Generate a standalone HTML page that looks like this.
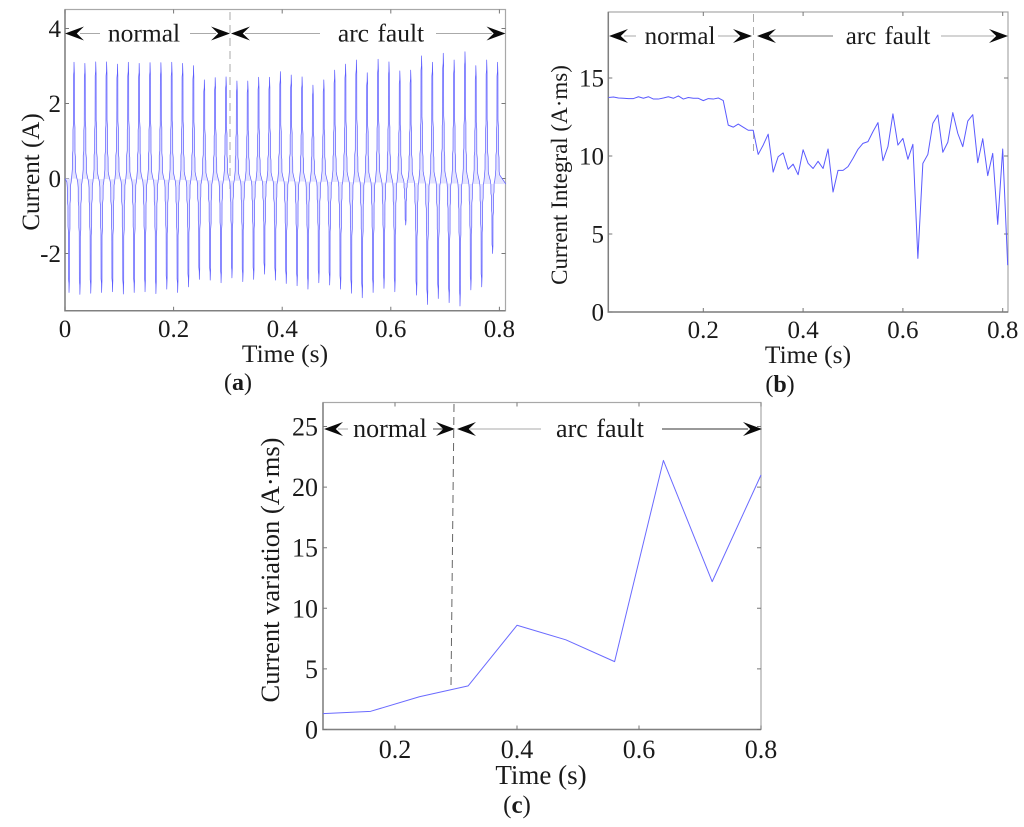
<!DOCTYPE html>
<html lang="en">
<head>
<meta charset="utf-8">
<title>Arc fault current charts</title>
<style>
html,body{margin:0;padding:0;background:#fff;width:1024px;height:827px;overflow:hidden}
svg{display:block}
text{font-family:"Liberation Serif",serif;fill:#1a1a1a}
</style>
</head>
<body>
<svg id="fig" width="1024" height="827" viewBox="0 0 1024 827" xmlns="http://www.w3.org/2000/svg">
<defs>
<clipPath id="clip-a"><rect x="65" y="9" width="441" height="302"/></clipPath>
<clipPath id="clip-b"><rect x="608" y="12" width="400.5" height="300"/></clipPath>
<clipPath id="clip-c"><rect x="323" y="402" width="438.5" height="328"/></clipPath>
</defs>
</svg>
<script>
// ---------- Panel (a) data: per-cycle peak currents ----------
const currentPositivePeaks = [3.10,3.07,3.11,3.11,3.05,3.10,3.07,3.09,3.09,3.10,3.07,3.01,2.63,2.69,2.71,2.60,2.60,2.70,
  2.70,2.85,2.76,2.71,2.49,2.63,2.89,3.05,3.16,2.82,3.18,3.11,2.87,2.89,3.27,3.10,3.34,3.16,3.38,3.01,3.16,3.10];
const currentNegativePeaks = [-3.04,-3.09,-3.06,-3.04,-3.02,-3.08,-3.04,-3.02,-3.07,-2.95,-3.04,-2.89,-2.69,-2.71,-2.78,-2.65,-2.75,-2.69,-2.55,
  -2.71,-2.80,-2.86,-2.95,-2.78,-2.84,-2.95,-3.06,-3.18,-3.04,-2.93,-3.02,-1.24,-3.11,-3.36,-3.20,-3.31,-3.40,-2.97,-2.89,-2.00];
// half-cycle stepped waveform profile: time offset from the peak (s) and fraction of the peak
const pulseOffsets = [-0.0040,-0.0031,-0.0030,-0.0020,-0.0019,-0.0012,-0.0010,-0.0002,0,0.0007,0.0008,0.0017,0.0018,0.0027,0.0029,0.0040];
const pulseLevels = [0.03,0.08,0.20,0.24,0.42,0.46,0.88,0.92,1,0.90,0.50,0.44,0.22,0.18,0.06,0.03];
const positivePeakFirstTime = 0.0166;
const negativePeakFirstTime = 0.0074;
const cyclePeriod = 0.02;
const currentXTicks = [0,0.2,0.4,0.6,0.8];
const currentXLabels = ["0","0.2","0.4","0.6","0.8"];
const currentYTicks = [4,2,0,-2];
const currentYLabels = ["4","2","0","-2"];

// ---------- Panel (b) data ----------
const integralTimes = [0.01,0.02,0.03,0.04,0.05,0.06,0.07,0.08,0.09,0.10,0.11,0.12,0.13,0.14,0.15,0.16,0.17,0.18,0.19,0.20,
  0.21,0.22,0.23,0.24,0.25,0.26,0.27,0.28,0.29,0.30,0.31,0.32,0.33,0.34,0.35,0.36,0.37,0.38,0.39,0.40,
  0.41,0.42,0.43,0.44,0.45,0.46,0.47,0.48,0.49,0.50,0.51,0.52,0.53,0.54,0.55,0.56,0.57,0.58,0.59,0.60,
  0.61,0.62,0.63,0.64,0.65,0.66,0.67,0.68,0.69,0.70,0.71,0.72,0.73,0.74,0.75,0.76,0.77,0.78,0.79,0.80,0.81];
const integralValues = [13.75,13.78,13.72,13.70,13.68,13.68,13.80,13.70,13.80,13.65,13.65,13.72,13.80,13.70,13.85,13.65,13.75,13.70,13.70,13.55,
  13.68,13.65,13.72,13.55,11.98,11.85,12.05,11.85,11.65,11.65,10.10,10.70,11.40,8.97,9.95,10.20,9.15,9.48,8.80,10.40,
  9.53,9.20,9.66,9.20,10.45,7.69,9.08,9.08,9.32,9.85,10.43,10.81,10.92,11.56,12.14,9.70,10.60,12.70,10.70,11.13,
  9.79,10.75,3.44,9.53,10.10,12.09,12.63,10.24,10.88,12.78,11.45,10.60,12.24,12.65,9.57,11.11,8.74,10.17,5.62,10.45,3.00];
const integralXTicks = [0.2,0.4,0.6,0.8];
const integralXLabels = ["0.2","0.4","0.6","0.8"];
const integralYTicks = [15,10,5,0];
const integralYLabels = ["15","10","5","0"];

// ---------- Panel (c) data ----------
const variationTimes = [0.08,0.16,0.24,0.32,0.40,0.48,0.56,0.64,0.72,0.80];
const variationValues = [1.3,1.5,2.7,3.6,8.6,7.4,5.6,22.2,12.2,21.0];
const variationXTicks = [0.2,0.4,0.6,0.8];
const variationXLabels = ["0.2","0.4","0.6","0.8"];
const variationYTicks = [25,20,15,10,5,0];
const variationYLabels = ["25","20","15","10","5","0"];

// ---------- Axis functions ----------
const xA = t => 65 + 543 * t;
const yA = v => 178.5 - 37.5 * v;
const xB = t => 703.3 + (t - 0.2) * 499;
const yB = v => 312 - 15.6 * v;
const xC = t => 395 + (t - 0.2) * 610;
const yC = v => 729.5 - 12.12 * v;

const NS = "http://www.w3.org/2000/svg";
const fig = document.getElementById("fig");
function mk(parent, tag, attrs, txt) {
  const e = document.createElementNS(NS, tag);
  for (const k in attrs) e.setAttribute(k, attrs[k]);
  if (txt !== undefined) e.textContent = txt;
  parent.appendChild(e);
  return e;
}
function ptsOf(ts, vs, fx, fy) {
  return ts.map((t, i) => fx(t).toFixed(2) + "," + fy(vs[i]).toFixed(2)).join(" ");
}
function drawPanel(p) {
  const g = mk(fig, "g", {});
  
  

  const frame = mk(g, "rect", {x:p.l, y:p.t, width:p.r-p.l, height:p.b-p.t, fill:"none", stroke:"#a8a8a8", "stroke-width":1.2});
  
  
  const spine = mk(g, "path", {d:`M${p.l} ${p.t}V${p.b}H${p.r}`, fill:"none", stroke:"#808080", "stroke-width":1.5});
  
  

  p.xt.forEach((t, i) => {
    const x = p.fx(t);
    const tk = mk(g, "path", {d:`M${x} ${p.b}v-4M${x} ${p.t}v4`, stroke:"#777", "stroke-width":1, fill:"none"});
    
    
    const lb = mk(g, "text", {x:x, y:p.xlY, "font-size":p.fs, "text-anchor":"middle"}, p.xl[i]);
    
    
  });
  p.yt.forEach((v, i) => {
    const y = p.fy(v);
    const tk = mk(g, "path", {d:`M${p.l} ${y}h4M${p.r} ${y}h-4`, stroke:"#777", "stroke-width":1, fill:"none"});
    
    
    const lb = mk(g, "text", {x:p.ylX, y:y + p.ylDy, "font-size":p.fs, "text-anchor":"end"}, p.yl[i]);
    
    
  });

  const dash = mk(g, "path", {d:p.dash, fill:"none", stroke:p.dashColor, "stroke-width":1, "stroke-dasharray":"8 5"});
  
  

  const line = mk(g, "polyline", {points:ptsOf(p.ts, p.vs, p.fx, p.fy), fill:p.fill, stroke:p.color, "stroke-width":p.sw, "stroke-linejoin":"round", "clip-path":`url(#${p.clip})`});
  
  

  // phase annotation: arrows and labels
  const a = p.ann, y = a.y;
  a.segs.forEach(s => {
    const shaft = mk(g, "line", {x1:s[0], x2:s[1], y1:y, y2:y, stroke:s[2], "stroke-width":1});
    
    
  });
  a.heads.forEach(h => {
    const tip = h[0], L = 19 * h[1];
    const head = mk(g, "polygon", {points:`${tip},${y} ${tip+L},${y-7} ${tip+L*0.62},${y} ${tip+L},${y+7}`, fill:"#0a0a0a"});
    
    
  });
  const n = mk(g, "text", {x:a.normalX, y:y + a.dy, "font-size":a.fs, "text-anchor":"middle"}, "normal");
  
  
  const f = mk(g, "text", {x:a.faultX, y:y + a.dy, "font-size":a.fs, "text-anchor":"middle", "word-spacing":"2"}, "arc fault");
  
  

  const xt = mk(g, "text", {x:p.xTitle[0], y:p.xTitle[1], "font-size":p.xTitle[2], "text-anchor":"middle"}, "Time (s)");
  
  
  const yt = mk(g, "text", {transform:`translate(${p.yTitle[0]} ${p.yTitle[1]}) rotate(-90)`, "font-size":p.yTitle[2], "text-anchor":"middle"}, p.yTitleText);
  
  

  const cap = mk(g, "text", {x:p.cap[0], y:p.cap[1], "font-size":p.cap[2], "text-anchor":"middle"});
  
  
  mk(cap, "tspan", {}, "(");
  mk(cap, "tspan", {"font-weight":"bold"}, p.capLetter);
  mk(cap, "tspan", {}, ")");
}

// build the current waveform from the per-cycle peaks
const currentTimes = [0], currentValues = [0];
currentPositivePeaks.forEach((peak, k) => {
  const tn = negativePeakFirstTime + cyclePeriod * k;
  pulseOffsets.forEach((o, i) => { currentTimes.push(tn + o); currentValues.push(currentNegativePeaks[k] * pulseLevels[i]); });
  const tp = positivePeakFirstTime + cyclePeriod * k;
  pulseOffsets.forEach((o, i) => { currentTimes.push(tp + o); currentValues.push(peak * pulseLevels[i]); });
});
currentTimes.push(0.812); currentValues.push(-0.15);

drawPanel({
  name:"panel-a-current", series:"current-waveform", clip:"clip-a", color:"#5c5cff", fill:"#e4e4ff", sw:0.7,
  l:65, r:505.5, t:9.5, b:310.7, fx:xA, fy:yA, ts:currentTimes, vs:currentValues,
  xt:currentXTicks, xl:currentXLabels, yt:currentYTicks, yl:currentYLabels,
  fs:25, xlY:337, ylX:61, ylDy:8.5,
  dash:"M230 12V192", dashColor:"#aaa",
  ann:{y:33.5, fs:25.5, dy:8, normalX:144, faultX:381,
    segs:[[80,100,"#aaa"],[190,216,"#aaa"],[245,320,"#aaa"],[436,492,"#aaa"]],
    heads:[[65,1],[230,-1],[231,1],[505.5,-1]]},
  xTitle:[285,362,25.5], yTitle:[39,172,25], yTitleText:"Current (A)",
  cap:[238,390,24], capLetter:"a"
});
drawPanel({
  name:"panel-b-current-integral", series:"current-integral-line", clip:"clip-b", color:"#5a5aff", fill:"none", sw:1,
  l:608.3, r:1008, t:12, b:312, fx:xB, fy:yB, ts:integralTimes, vs:integralValues,
  xt:integralXTicks, xl:integralXLabels, yt:integralYTicks, yl:integralYLabels,
  fs:25, xlY:338, ylX:604, ylDy:8.5,
  dash:"M753.5 14V151", dashColor:"#aaa",
  ann:{y:36, fs:25, dy:8, normalX:680, faultX:888,
    segs:[[624,636,"#aaa"],[718,738,"#aaa"],[770,833,"#777"],[941,994,"#aaa"]],
    heads:[[609,1],[752,-1],[757,1],[1008,-1]]},
  xTitle:[808,363,25.5], yTitle:[567,175,23], yTitleText:"Current Integral (A\u00B7ms)",
  cap:[780,392,24], capLetter:"b"
});
drawPanel({
  name:"panel-c-current-variation", series:"current-variation-line", clip:"clip-c", color:"#6a6aff", fill:"none", sw:1,
  l:323, r:761, t:402.5, b:729.5, fx:xC, fy:yC, ts:variationTimes, vs:variationValues,
  xt:variationXTicks, xl:variationXLabels, yt:variationYTicks, yl:variationYLabels,
  fs:26, xlY:758, ylX:318, ylDy:9,
  dash:"M454 404L451 686", dashColor:"#666",
  ann:{y:429, fs:26, dy:8, normalX:390, faultX:600,
    segs:[[338,348,"#aaa"],[433,445,"#444"],[470,541,"#aaa"],[662,748,"#333"]],
    heads:[[324,1],[455,-1],[457,1],[762,-1]]},
  xTitle:[541,784,27], yTitle:[279,570,26.5], yTitleText:"Current variation (A\u00B7ms)",
  cap:[517,813,25], capLetter:"c"
});
</script>
</body>
</html>
